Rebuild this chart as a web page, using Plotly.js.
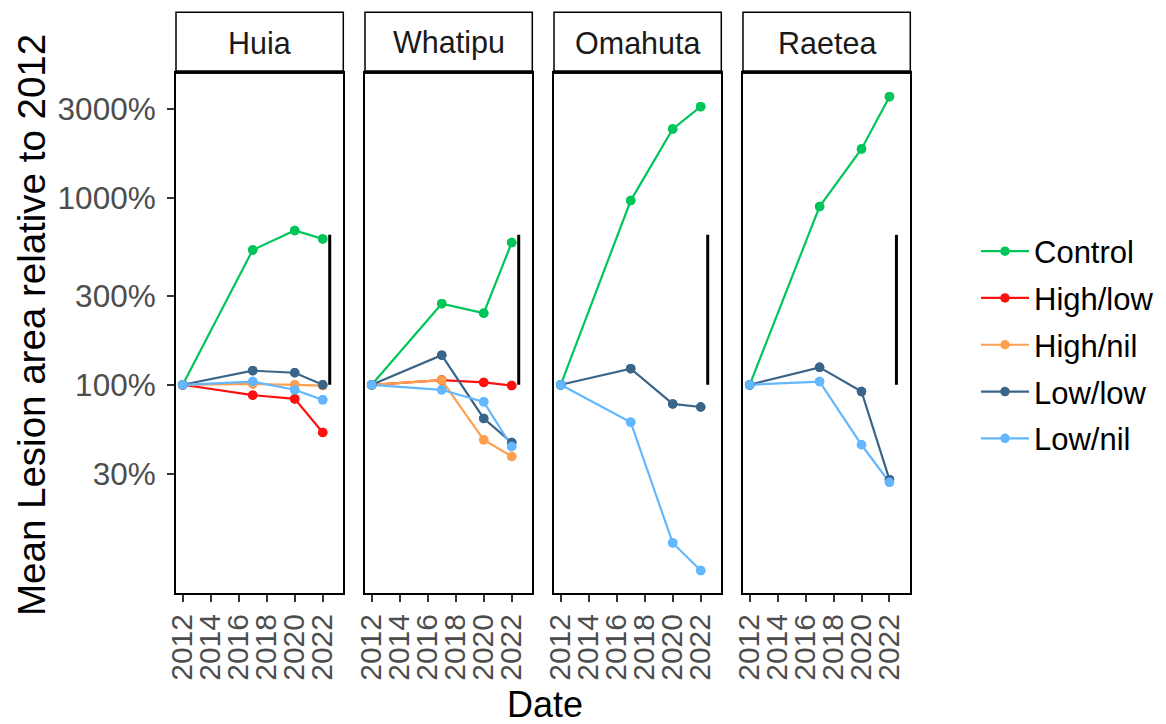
<!DOCTYPE html>
<html>
<head>
<meta charset="utf-8">
<script src="https://cdn.plot.ly/plotly-3.0.1.min.js"></script>
<style>
  html, body { margin: 0; padding: 0; background: #ffffff; }
  #chart { width: 1166px; height: 724px; }
</style>
</head>
<body>
<div id="chart"></div>
<script>
// Survey years and sites
const years = [2012, 2017, 2020, 2022];
const sites = ['Huia', 'Whatipu', 'Omahuta', 'Raetea'];
const treatments = ['Control', 'High/low', 'High/nil', 'Low/low', 'Low/nil'];

// Mean lesion area relative to 2012 (percent), per site and treatment
const huiaControl  = [100, 528, 671, 605];
const huiaHighLow  = [100, 88, 84, 55.5];
const huiaHighNil  = [100, 101, 100, 99];
const huiaLowLow   = [100, 119, 116, 100];
const huiaLowNil   = [100, 104, 94, 83];

const whatipuControl = [100, 272, 242, 578];
const whatipuHighLow = [100, 106, 103, 99];
const whatipuHighNil = [100, 106, 50.7, 41.3];
const whatipuLowLow  = [100, 144, 66, 49];
const whatipuLowNil  = [100, 94, 81, 46.7];

const omahutaControl = [100, 971, 2350, 3095];
const omahutaLowLow  = [100, 122, 79, 76];
const omahutaLowNil  = [100, 63, 14.2, 10.1];

const raeteaControl = [100, 902, 1837, 3500];
const raeteaLowLow  = [100, 124, 92, 31];
const raeteaLowNil  = [100, 104, 47.7, 30];

// Reference bar drawn at the right of each panel
const barYear = 2022.5;
const barRange = [100, 636];

// Axis ticks
const xTickVals = [2012, 2014, 2016, 2018, 2020, 2022];
const yTickVals = [100 / 3, 100, 300, 1000, 3000];
const yTickText = ['30%', '100%', '300%', '1000%', '3000%'];

const siteData = {
  'Huia':    {'Control': huiaControl, 'High/low': huiaHighLow, 'High/nil': huiaHighNil, 'Low/low': huiaLowLow, 'Low/nil': huiaLowNil},
  'Whatipu': {'Control': whatipuControl, 'High/low': whatipuHighLow, 'High/nil': whatipuHighNil, 'Low/low': whatipuLowLow, 'Low/nil': whatipuLowNil},
  'Omahuta': {'Control': omahutaControl, 'Low/low': omahutaLowLow, 'Low/nil': omahutaLowNil},
  'Raetea':  {'Control': raeteaControl, 'Low/low': raeteaLowLow, 'Low/nil': raeteaLowNil}
};

const colors = {
  'Control': '#00C65A',
  'High/low': '#FF1010',
  'High/nil': '#FFA04F',
  'Low/low': '#3A6589',
  'Low/nil': '#63B7FF'
};

// Page geometry (pixels)
const W = 1166, H = 724;
const M = {l: 176, r: 256, t: 12, b: 131, autoexpand: false};
const plotW = W - M.l - M.r, plotH = H - M.t - M.b;
const panelW = 167.3, panelGap = 21.7;
const stripTop = 12.3, panelTop = 73, panelBottom = 593;
const px2x = p => (p - M.l) / plotW;
const px2y = p => (H - M.b - p) / plotH;

const FONT = 'Liberation Sans, Arial, sans-serif';
const traces = [];
const markerTraces = [];
const layout = {
  width: W, height: H,
  margin: M,
  paper_bgcolor: '#ffffff',
  plot_bgcolor: '#ffffff',
  font: {family: FONT, color: '#000000'},
  showlegend: true,
  legend: {
    x: px2x(976), xanchor: 'left',
    y: px2y(345), yanchor: 'middle',
    font: {family: FONT, size: 31, color: '#000000'},
    itemwidth: 48,
    tracegroupgap: 3.5,
    bgcolor: 'rgba(0,0,0,0)'
  },
  shapes: [],
  annotations: []
};

sites.forEach((site, i) => {
  const sfx = i === 0 ? '' : String(i + 1);
  const xa = 'x' + sfx, ya = 'y' + sfx;
  const left = M.l + i * (panelW + panelGap);
  const right = left + panelW;

  layout['xaxis' + sfx] = {
    domain: [px2x(left), px2x(right)],
    anchor: ya,
    range: [2011.52, 2023.47],
    tickvals: xTickVals,
    ticktext: xTickVals.map(String),
    tickangle: -90,
    ticks: 'outside', ticklen: 7, tickwidth: 2, tickcolor: '#333333',
    tickfont: {family: FONT, size: 30, color: '#4D4D4D'},
    showgrid: false, zeroline: false,
    showline: true, mirror: true, linecolor: '#000000', linewidth: 2
  };
  layout['yaxis' + sfx] = {
    domain: [0, px2y(panelTop)],
    anchor: xa,
    type: 'log',
    range: [0.884, 3.671],
    tickvals: yTickVals,
    ticktext: yTickText,
    showticklabels: i === 0,
    ticks: i === 0 ? 'outside' : '',
    ticklen: 7, tickwidth: 2, tickcolor: '#333333',
    tickfont: {family: FONT, size: 31.5, color: '#4D4D4D'},
    ticklabelstandoff: 5,
    showgrid: false, zeroline: false,
    showline: true, mirror: true, linecolor: '#000000', linewidth: 2
  };

  // Facet strip
  layout.shapes.push({
    type: 'rect', xref: 'paper', yref: 'paper',
    x0: px2x(left), x1: px2x(right), y0: px2y(panelTop), y1: px2y(stripTop),
    line: {color: '#000000', width: 1.5}, fillcolor: '#ffffff'
  });
  layout.shapes.push({
    type: 'line', xref: 'paper', yref: 'paper',
    x0: px2x(left - 1), x1: px2x(right + 1), y0: px2y(panelTop - 1), y1: px2y(panelTop - 1),
    line: {color: '#000000', width: 3.5}
  });
  layout.annotations.push({
    xref: 'paper', yref: 'paper',
    x: px2x((left + right) / 2), y: px2y((stripTop + panelTop) / 2),
    text: site, showarrow: false,
    xanchor: 'center', yanchor: 'middle',
    font: {family: FONT, size: 30.5, color: '#1A1A1A'}
  });

  // Series lines for this site
  treatments.forEach(tr => {
    const vals = siteData[site][tr];
    if (!vals) return;
    traces.push({
      type: 'scatter', mode: 'lines+markers',
      x: years, y: vals, xaxis: xa, yaxis: ya,
      name: tr, legendgroup: tr, showlegend: i === 0,
      line: {color: colors[tr], width: 2.2},
      marker: {color: colors[tr], size: 9.5},
      hoverinfo: 'skip'
    });
    markerTraces.push({
      type: 'scatter', mode: 'markers',
      x: years, y: vals, xaxis: xa, yaxis: ya,
      name: tr, legendgroup: tr, showlegend: false,
      marker: {color: colors[tr], size: 9.5},
      hoverinfo: 'skip'
    });
  });

  // Reference bar
  markerTraces.push({
    type: 'scatter', mode: 'lines',
    x: [barYear, barYear], y: barRange, xaxis: xa, yaxis: ya,
    showlegend: false,
    line: {color: '#000000', width: 3},
    hoverinfo: 'skip'
  });
});

// Axis titles
layout.annotations.push({
  xref: 'paper', yref: 'paper',
  x: px2x(545), y: px2y(704),
  text: 'Date', showarrow: false,
  xanchor: 'center', yanchor: 'middle',
  font: {family: FONT, size: 36, color: '#000000'}
});
layout.annotations.push({
  xref: 'paper', yref: 'paper',
  x: px2x(31), y: px2y(325),
  text: 'Mean Lesion area relative to 2012', showarrow: false,
  textangle: -90,
  xanchor: 'center', yanchor: 'middle',
  font: {family: FONT, size: 38.5, color: '#000000'}
});

Plotly.newPlot('chart', traces.concat(markerTraces), layout, {displayModeBar: false, staticPlot: true});
</script>
</body>
</html>
